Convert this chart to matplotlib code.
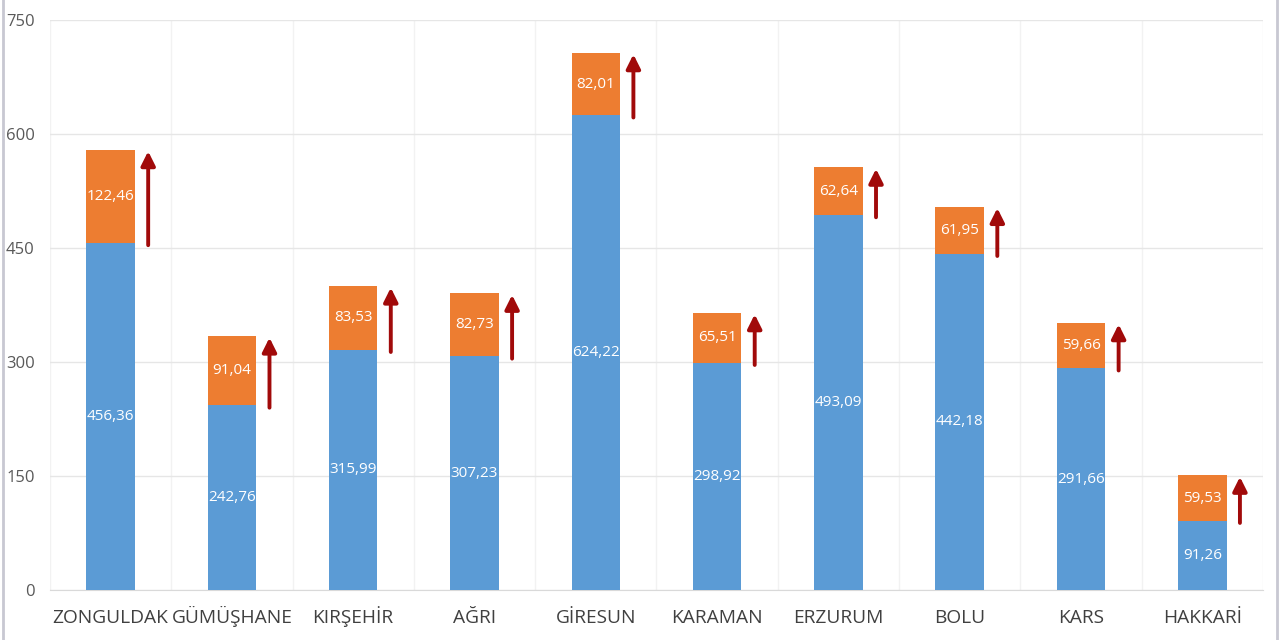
import matplotlib

matplotlib.use("Agg")
import matplotlib.pyplot as plt
import numpy as np

# Data
provinces = ["ZONGULDAK", "GÜMÜŞHANE", "KIRŞEHİR", "AĞRI", "GİRESUN",
             "KARAMAN", "ERZURUM", "BOLU", "KARS", "HAKKARİ"]
base = [456.36, 242.76, 315.99, 307.23, 624.22, 298.92, 493.09, 442.18, 291.66, 91.26]
increase = [122.46, 91.04, 83.53, 82.73, 82.01, 65.51, 62.64, 61.95, 59.66, 59.53]
y_ticks = [0, 150, 300, 450, 600, 750]

COLOR_BLUE = "#5B9BD5"
COLOR_ORANGE = "#ED7D31"
COLOR_ARROW = "#A10A0A"
COLOR_TEXT = "#595959"
COLOR_GRID = "#E6E6E6"

plt.rcParams["font.family"] = ["Open Sans", "DejaVu Sans"]

fig = plt.figure(figsize=(12.8, 6.4), dpi=100, facecolor="white")
ax = fig.add_axes([0.039, 0.078, 0.9477, 0.8915])

x = np.arange(len(provinces))
base = np.array(base)
increase = np.array(increase)
total = base + increase

ax.bar(x, base, width=0.4, color=COLOR_BLUE, zorder=3)
ax.bar(x, increase, width=0.4, bottom=base, color=COLOR_ORANGE, zorder=3)

# value labels centred in each segment
for xi, b, inc in zip(x, base, increase):
    ax.text(xi, b / 2, f"{b:.2f}".replace(".", ","), ha="center", va="center",
            color="white", fontsize=11, zorder=4)
    ax.text(xi, b + inc / 2, f"{inc:.2f}".replace(".", ","), ha="center", va="center",
            color="white", fontsize=11, zorder=4)

# red arrows beside each bar, spanning the increase
for xi, b, t in zip(x, base, total):
    ax.annotate(
        "",
        xy=(xi + 0.31, t - 2),
        xytext=(xi + 0.31, b - 3),
        arrowprops=dict(arrowstyle="-|>,head_width=0.3,head_length=0.6",
                        color=COLOR_ARROW, lw=2.8, mutation_scale=14,
                        shrinkA=0, shrinkB=0),
        zorder=5,
    )

ax.set_xlim(-0.5, len(provinces) - 0.5)
ax.set_ylim(0, 750)
ax.set_yticks(y_ticks)
ax.set_yticklabels([str(v) for v in y_ticks], fontsize=12, color=COLOR_TEXT)
ax.set_xticks(x)
ax.set_xticklabels(provinces, fontsize=13.8, color="#404040", va="baseline")
ax.tick_params(axis="both", length=0)
ax.tick_params(axis="x", pad=24)
ax.tick_params(axis="y", pad=11)

# light grid: horizontal at ticks, vertical at every half category
ax.set_xticks(np.arange(-0.5, len(provinces), 0.5), minor=True)
ax.grid(axis="y", color=COLOR_GRID, linewidth=1, zorder=0)
ax.grid(axis="x", which="minor", color="#F2F2F2", linewidth=1, zorder=0)
ax.grid(axis="x", which="major", visible=False)
ax.tick_params(axis="x", which="minor", length=0)

for side in ["top", "right", "left"]:
    ax.spines[side].set_visible(False)
ax.spines["bottom"].set_color("#D9D9D9")

# thin frame lines at the picture edges
fig.add_artist(plt.Line2D([0.002, 0.002], [0, 1], color="#C8C8D2", lw=2, transform=fig.transFigure))
fig.add_artist(plt.Line2D([0.998, 0.998], [0, 1], color="#C8C8D2", lw=2, transform=fig.transFigure))

fig.savefig("out.png", dpi=100, facecolor="white")
plt.close(fig)
